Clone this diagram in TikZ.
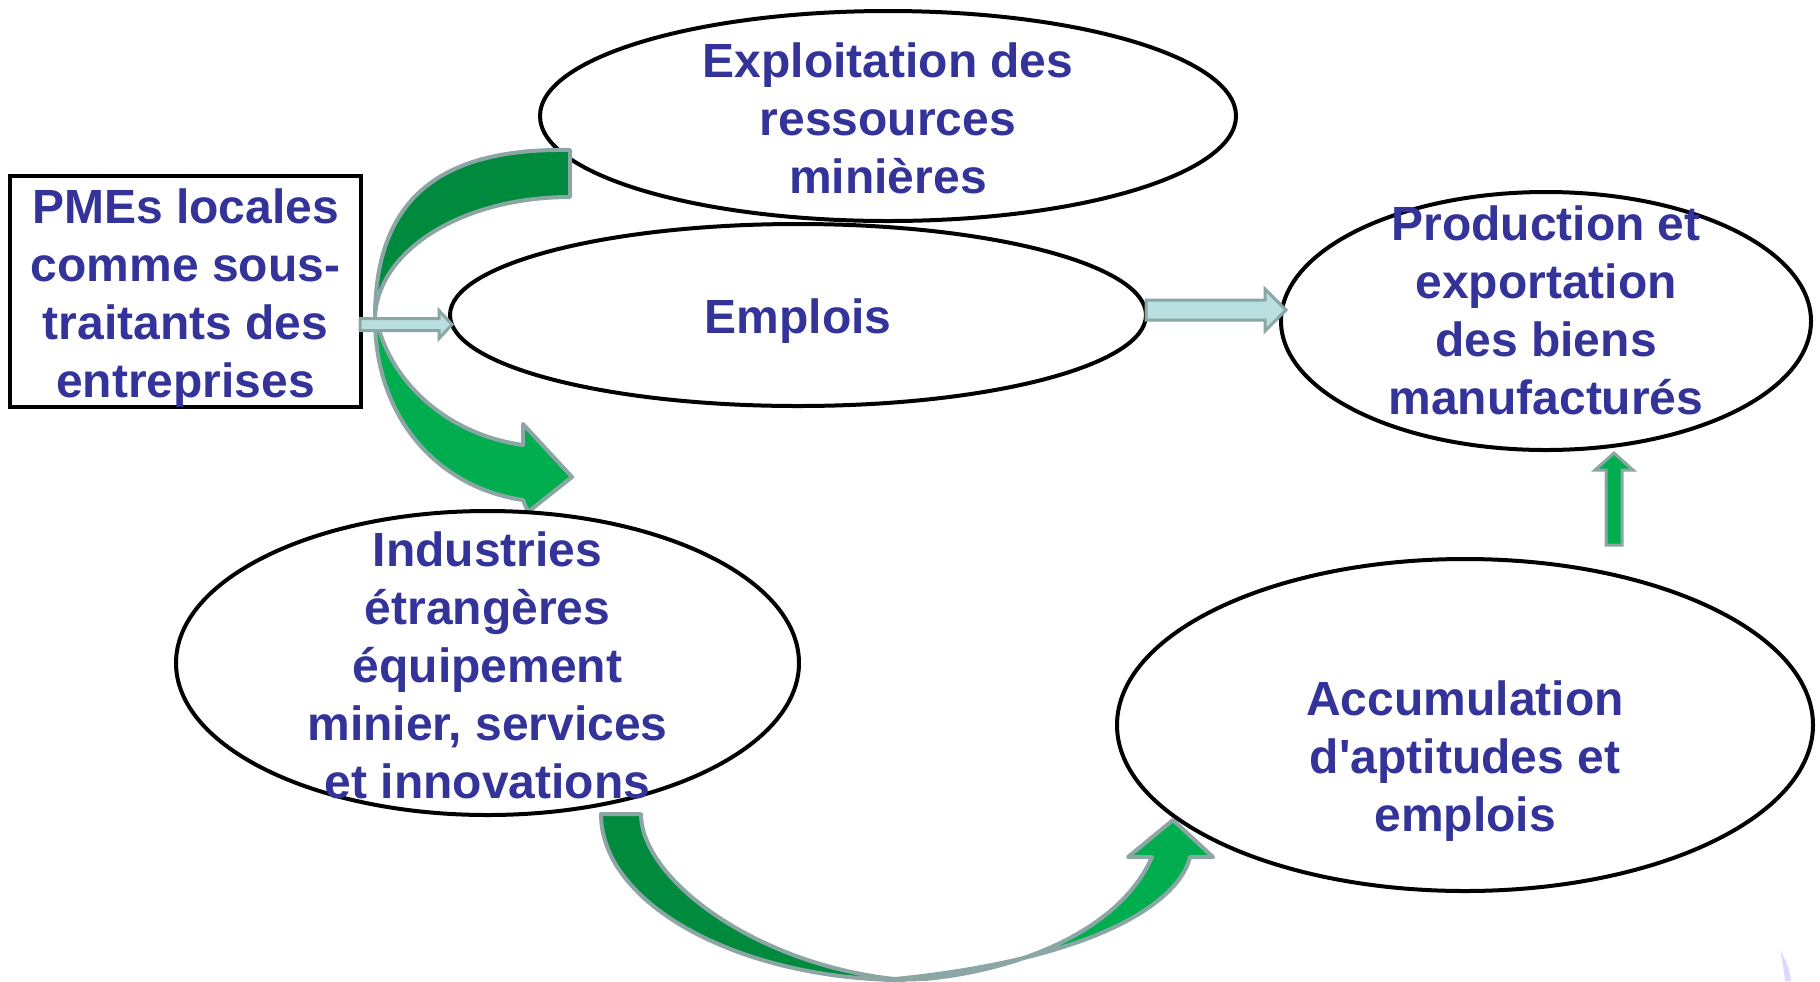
\documentclass[tikz,border=0pt]{standalone}
\usepackage{fontspec}
\setmainfont{Liberation Sans}
\usetikzlibrary{shapes.geometric}
\definecolor{txtblue}{HTML}{333399}
\definecolor{rimgray}{HTML}{8CA5A5}
\definecolor{darkleaf}{HTML}{008A3E}
\definecolor{leaf}{HTML}{00AE50}
\definecolor{paleaqua}{HTML}{B9DFE1}
\begin{document}
\begin{tikzpicture}[x=.5pt,y=-.5pt,
	bubble/.style={draw,ellipse,line width=2pt,inner sep=0pt},
	words/.style={text=txtblue,font=\fontsize{24}{29}\selectfont\bfseries,align=center},
	bigarrow/.style={draw=rimgray,line width=2pt,line join=round},
	smallarrow/.style={draw=rimgray,fill=paleaqua,line width=1.5pt}]
	\useasboundingbox (0,0) rectangle (1820,981);

	\node[bubble,minimum width=348pt,minimum height=105pt] (mines) at (888,116) {};
	\node[words] (minestext) at (888,118) {Exploitation des\\ressources\\minières};

	\filldraw[bigarrow,fill=darkleaf] (570,150) .. controls (450,148) and (375,190) .. (375,318)
		.. controls (377,250) and (463,197) .. (570,197) -- cycle;
	\filldraw[bigarrow,fill=leaf] (375,318) .. controls (375,420) and (440,488) .. (523,500)
		-- (528,512) -- (572,477) -- (523,424) -- (523,445)
		.. controls (450,435) and (392,385) .. (377,322) -- cycle;

	\filldraw[bigarrow,fill=darkleaf] (601,814) .. controls (601,905) and (741,980) .. (905,980)
		.. controls (760,968) and (641,880) .. (641,814) -- cycle;
	\filldraw[bigarrow,fill=leaf] (925,979) .. controls (1020,970) and (1120,930) .. (1152,857)
		-- (1128,857) -- (1173,820) -- (1213,857) -- (1190,857)
		.. controls (1180,900) and (1100,960) .. (885,980) -- cycle;

	\node[draw,line width=2pt,minimum width=175.5pt,minimum height=115.5pt] (pme) at (185.5,291.5) {};
	\node[words] (pmetext) at (185.5,298.5) {PMEs locales\\comme sous-\\traitants des\\entreprises};

	\node[bubble,minimum width=348pt,minimum height=91pt] (emplois) at (798,315) {};
	\node[words] (emploistext) at (798,321) {Emplois};

	\node[bubble,minimum width=265pt,minimum height=129pt] (prod) at (1546,321) {};
	\node[words] (prodtext) at (1546,310) {Production et\\exportation\\des biens\\manufacturés};

	\node[bubble,minimum width=311.5pt,minimum height=152pt] (industries) at (487.5,663) {};
	\node[words] (industriestext) at (487.5,665) {Industries\\étrangères\\équipement\\minier, services\\et innovations};

	\node[bubble,minimum width=348pt,minimum height=166pt] (accu) at (1465,725) {};
	\node[words] (accutext) at (1465,761) {Accumulation\\d\textquotesingle aptitudes et\\emplois};

	\draw[smallarrow] (pme.east) ++(-3,27) -- ++(79,0) -- ++(0,-8) -- ++(13,14) -- ++(-13,14)
		-- ++(0,-8) -- ++(-79,0) -- cycle;
	\draw[smallarrow] (emplois.east) ++(-2,-15) -- ++(119,0) -- ++(0,-11) -- ++(21,21) -- ++(-21,21)
		-- ++(0,-11) -- ++(-119,0) -- cycle;
	\draw[smallarrow,fill=leaf] (prod.south) ++(60,93) -- ++(0,-75) -- ++(-11,0) -- ++(19,-17)
		-- ++(19,17) -- ++(-11,0) -- ++(0,75) -- cycle;

	\fill[blue!15] (1780,950) .. controls (1786,960) and (1790,970) .. (1791,981)
		-- (1785,981) .. controls (1784,970) and (1782,960) .. cycle;
\end{tikzpicture}
\end{document}
